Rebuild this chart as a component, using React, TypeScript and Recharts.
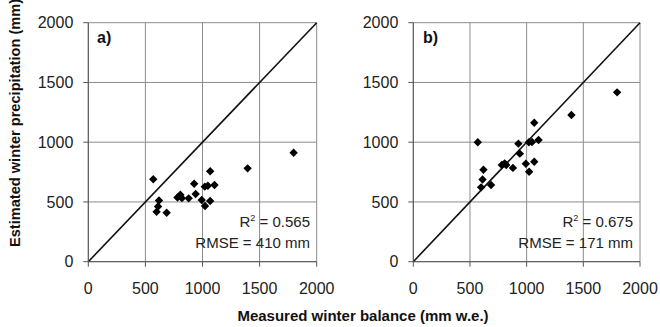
import React from "react";
import {
  ScatterChart,
  Scatter,
  XAxis,
  YAxis,
  CartesianGrid,
  ReferenceLine,
} from "recharts";

// Measured winter balance (mm w.e.) for each site, shared by both panels
const measured = [569, 619, 611, 598, 686, 781, 806, 820, 879, 927, 940, 993, 1022, 1020, 1047, 1067, 1067, 1105, 1395, 1798];
// Estimated winter precipitation (mm), panel a)
const estimatedA = [690, 512, 462, 417, 409, 537, 560, 532, 530, 652, 566, 516, 466, 628, 635, 757, 508, 642, 781, 912];
// Estimated winter precipitation (mm), panel b)
const estimatedB = [1000, 770, 688, 622, 642, 809, 823, 809, 785, 988, 904, 820, 753, 1000, 1002, 1163, 837, 1018, 1228, 1417];

const axisTicks = [0, 500, 1000, 1500, 2000];

const FONT = "'Liberation Sans', Arial, sans-serif";

const toPoints = (ys: number[]) => measured.map((x, i) => ({ x, y: ys[i] }));

const Diamond = (props: any) => {
  const { cx, cy } = props;
  if (cx == null || cy == null) return null;
  const r = 4.2;
  return (
    <polygon
      points={`${cx},${cy - r} ${cx + r},${cy} ${cx},${cy + r} ${cx - r},${cy}`}
      fill="#000"
    />
  );
};

type PanelProps = {
  data: { x: number; y: number }[];
  width: number;
  yAxisWidth: number;
  marginRight: number;
};

const Panel = ({ data, width, yAxisWidth, marginRight }: PanelProps) => (
  <ScatterChart
    width={width}
    height={327}
    margin={{ top: 22.7, right: marginRight, bottom: 35.3, left: 0 }}
  >
    <CartesianGrid stroke="#8c8c8c" strokeWidth={1} />
    <XAxis
      type="number"
      dataKey="x"
      domain={[0, 2000]}
      ticks={axisTicks}
      height={30}
      tickSize={5}
      tickMargin={16}
      stroke="#555"
      tick={{ fontSize: 16, fill: "#222", fontFamily: FONT }}
      interval={0}
    />
    <YAxis
      type="number"
      dataKey="y"
      domain={[0, 2000]}
      ticks={axisTicks}
      width={yAxisWidth}
      tickSize={5}
      tickMargin={10}
      stroke="#555"
      tick={{ fontSize: 16, fill: "#222", fontFamily: FONT }}
      interval={0}
    />
    <ReferenceLine
      segment={[
        { x: 0, y: 0 },
        { x: 2000, y: 2000 },
      ]}
      stroke="#111"
      strokeWidth={1.6}
    />
    <Scatter data={data} shape={<Diamond />} isAnimationActive={false} />
  </ScatterChart>
);

type StatsProps = { left: number; label: string; r2: string; rmse: string; right: number };

const Stats = ({ left, label, r2, rmse, right }: StatsProps) => (
  <svg
    width={330}
    height={327}
    style={{ position: "absolute", left, top: 0, pointerEvents: "none" }}
  >
    <text x={label === "a)" ? 97 : 93} y={43} fontFamily={FONT} fontWeight="bold" fontSize={16} fill="#111">
      {label}
    </text>
    <text x={right} y={227} textAnchor="end" fontFamily={FONT} fontSize={15} fill="#222">
      R<tspan fontSize={9} dy={-6}>2</tspan>
      <tspan dy={6}> = {r2}</tspan>
    </text>
    <text x={right} y={247.5} textAnchor="end" fontFamily={FONT} fontSize={15} fill="#222">
      RMSE = {rmse} mm
    </text>
  </svg>
);

export default function App() {
  return (
    <div
      style={{
        position: "absolute",
        left: 0,
        top: 0,
        width: 660,
        height: 327,
        background: "#fff",
        overflow: "hidden",
      }}
    >
      <div style={{ position: "absolute", left: 0, top: 0 }}>
        <Panel data={toPoints(estimatedA)} width={350} yAxisWidth={88.3} marginRight={33.3} />
      </div>
      <div style={{ position: "absolute", left: 330, top: 0 }}>
        <Panel data={toPoints(estimatedB)} width={330} yAxisWidth={83.3} marginRight={20} />
      </div>
      <Stats left={0} label="a)" r2="0.565" rmse="410" right={310} />
      <Stats left={330} label="b)" r2="0.675" rmse="171" right={303} />
      <svg
        width={660}
        height={327}
        style={{ position: "absolute", left: 0, top: 0, pointerEvents: "none" }}
      >
        <text
          x={363}
          y={321}
          textAnchor="middle"
          fontFamily={FONT}
          fontWeight="bold"
          fontSize={15}
          fill="#111"
        >
          Measured winter balance (mm w.e.)
        </text>
        <text
          transform="translate(20,123) rotate(-90)"
          textAnchor="middle"
          fontFamily={FONT}
          fontWeight="bold"
          fontSize={14.6}
          fill="#111"
        >
          Estimated winter precipitation (mm)
        </text>
      </svg>
    </div>
  );
}
